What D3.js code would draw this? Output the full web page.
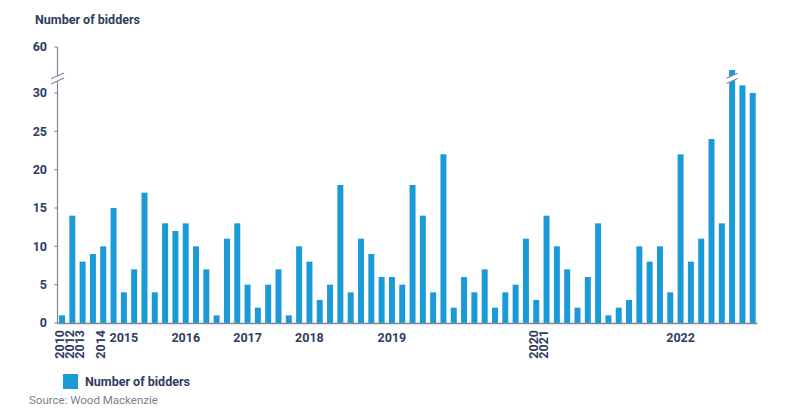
<!DOCTYPE html>
<html>
<head>
<meta charset="utf-8">
<script src="https://cdn.jsdelivr.net/npm/d3@7"></script>
<style>
  html, body { margin: 0; padding: 0; background: #ffffff; }
  svg { display: block; }
  text { font-family: Roboto, "Noto Sans", sans-serif; }
</style>
</head>
<body>
<div id="chart"></div>
<script>
// ---- Data ----
const rounds = d3.range(1, 69); // 68 bidding rounds (categories)
const bidders = [1,14,8,9,10,15,4,7,17,4,
                 13,12,13,10,7,1,11,13,5,2,
                 5,7,1,10,8,3,5,18,4,11,
                 9,6,6,5,18,14,4,22,2,6,
                 4,7,2,4,5,11,3,14,10,7,
                 2,6,13,1,2,3,10,8,10,4,
                 22,8,11,24,13,57,31,30];
const yTickValues = [0, 5, 10, 15, 20, 25, 30, 60];
const xTickYears  = ["2010","2012","2013","2014","2015","2016","2017","2018","2019","2020","2021","2022"];
const xTickRound  = [1, 2, 3, 5, 7, 13, 19, 25, 33, 47, 48, 61];
const xTickRotated = [true, true, true, true, false, false, false, false, false, true, true, false];
const seriesName = "Number of bidders";
const sourceText = "Source: Wood Mackenzie";

// ---- Layout ----
const W = 800, H = 418;
const barColor = "#1a9ad6";
const navy = "#2e3c63";
const axisColor = "#7d879d";

const svg = d3.select("#chart").append("svg").attr("width", W).attr("height", H);

const x = d3.scaleBand().domain(rounds).range([56.85, 757.9]).paddingInner(0.42).paddingOuter(0.21);
// broken axis: 0-33 lower segment, 57-60 upper segment, same density
const y = d3.scaleLinear().domain([0, 33, 57, 60]).range([323, 70, 70, 47]);

// title
svg.append("text").attr("x", 35).attr("y", 24)
  .attr("font-size", 12.5).attr("font-weight", 700).attr("fill", navy)
  .text(seriesName);

// bars
svg.append("g").selectAll("rect").data(bidders).join("rect")
  .attr("x", (d, i) => x(rounds[i]))
  .attr("width", x.bandwidth())
  .attr("y", d => y(d))
  .attr("height", d => y(0) - y(d))
  .attr("fill", barColor);

// break marker helper
const breakY = y(31.9);
function drawBreak(cx, halfW) {
  const g = svg.append("g");
  const slope = 0.45;
  const gap = 2.6;
  g.append("path")
    .attr("d", `M${cx - halfW},${breakY + gap + halfW * slope} L${cx + halfW},${breakY + gap - halfW * slope} L${cx + halfW},${breakY - gap - halfW * slope} L${cx - halfW},${breakY - gap + halfW * slope} Z`)
    .attr("fill", "#ffffff");
  [-gap, gap].forEach(o => {
    g.append("line")
      .attr("x1", cx - halfW - 1).attr("y1", breakY + o + (halfW + 1) * slope)
      .attr("x2", cx + halfW + 1).attr("y2", breakY + o - (halfW + 1) * slope)
      .attr("stroke", axisColor).attr("stroke-width", 1.1);
  });
}

// y axis
const yAxisX = 57.5;
const yAxis = svg.append("g");
yAxis.append("line").attr("x1", yAxisX).attr("x2", yAxisX).attr("y1", y(60)).attr("y2", y(0))
  .attr("stroke", axisColor).attr("stroke-width", 1.2);
yAxis.selectAll("line.tick").data(yTickValues).join("line").attr("class", "tick")
  .attr("x1", yAxisX - 3).attr("x2", yAxisX).attr("y1", d => y(d)).attr("y2", d => y(d))
  .attr("stroke", axisColor).attr("stroke-width", 1.1);
yAxis.selectAll("text").data(yTickValues).join("text")
  .attr("x", 47).attr("y", d => y(d)).attr("dy", "0.35em")
  .attr("text-anchor", "end").attr("font-size", 12.5).attr("font-weight", 700).attr("fill", navy)
  .text(d => d);
drawBreak(yAxisX, 5.5);

// break on tallest bar
const maxIdx = bidders.indexOf(d3.max(bidders));
drawBreak(x(rounds[maxIdx]) + x.bandwidth() / 2, 4.5);

// x axis line
svg.append("line").attr("x1", 57).attr("x2", 757.5).attr("y1", y(0) + 0.5).attr("y2", y(0) + 0.5)
  .attr("stroke", axisColor).attr("stroke-width", 1.3);

// x tick labels
const xl = svg.append("g");
xTickYears.forEach((lab, k) => {
  const cx = x(xTickRound[k]) + x.bandwidth() / 2;
  if (xTickRotated[k]) {
    xl.append("text")
      .attr("transform", `translate(${cx - 2.5},330) rotate(-90)`)
      .attr("dy", "0.35em").attr("text-anchor", "end")
      .attr("font-size", 12.5).attr("font-weight", 700).attr("fill", navy)
      .text(lab);
  } else {
    xl.append("text")
      .attr("x", cx).attr("y", 342).attr("text-anchor", "middle")
      .attr("font-size", 12.5).attr("font-weight", 700).attr("fill", navy)
      .text(lab);
  }
});

// legend
svg.append("rect").attr("x", 63).attr("y", 374).attr("width", 15).attr("height", 15).attr("fill", barColor);
svg.append("text").attr("x", 85).attr("y", 386)
  .attr("font-size", 12.5).attr("font-weight", 700).attr("fill", navy).text(seriesName);

// source
svg.append("text").attr("x", 29).attr("y", 404)
  .attr("font-size", 11.5).attr("fill", "#7b8192").text(sourceText);
</script>
</body>
</html>
